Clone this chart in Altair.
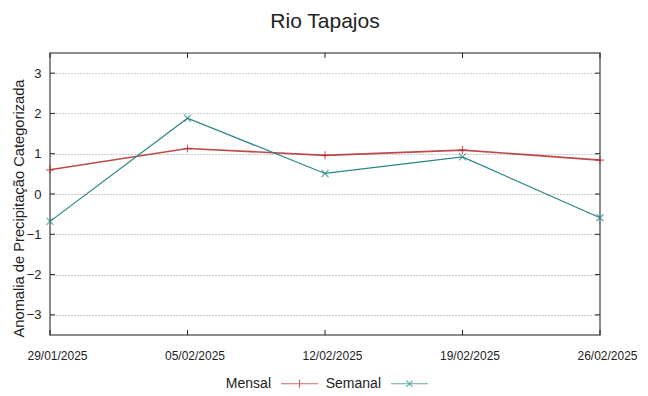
import altair as alt
import pandas as pd

# ---- data ----
dates = ["29/01/2025", "05/02/2025", "12/02/2025", "19/02/2025", "26/02/2025"]
mensal = [0.60, 1.13, 0.96, 1.09, 0.84]
semanal = [-0.68, 1.88, 0.51, 0.92, -0.59]
series_names = ["Mensal", "Semanal"]
y_ticks = [-3, -2, -1, 0, 1, 2, 3]

rows = []
for d, v in zip(dates, mensal):
    rows.append({"date": d, "value": v, "series": "Mensal"})
for d, v in zip(dates, semanal):
    rows.append({"date": d, "value": v, "series": "Semanal"})
df = pd.DataFrame(rows)
yt_df = pd.DataFrame({"value": y_ticks})
xt_df = pd.DataFrame({"date": dates})

W, H = 550, 282
FONT = "Liberation Sans"
RED = "#b22a2a"
TEAL = "#2a8585"
TXT = "#222222"

PLUS = "M-1,0H1M0,-1V1"
CROSS = "M-1,-1L1,1M-1,1L1,-1"
LEG_PLUS = "M-1,0H1M0,-0.22V0.22"
LEG_CROSS = "M-1,0H1M-0.17,-0.17L0.17,0.17M-0.17,0.17L0.17,-0.17"

x_scale = alt.Scale(type="point", domain=dates, padding=0)
y_scale = alt.Scale(domain=[-3.5, 3.5], nice=False, zero=False)

x_axis = alt.Axis(title=None, labelAngle=0, labelFontSize=12, labelPadding=15,
                  labelOffset=7, tickSize=0, domain=False, grid=False,
                  labelFont=FONT, labelColor=TXT)
y_axis = alt.Axis(values=y_ticks, title="Anomalia de Precipitação Categorizada",
                  grid=True, gridDash=[1, 2], gridColor="#999999", gridWidth=1,
                  tickSize=0, domain=False, labelPadding=9, labelFontSize=13,
                  labelFont=FONT, labelColor=TXT, titleFont=FONT,
                  titleFontSize=14.7, titleFontWeight="normal", titleColor=TXT,
                  titleX=-31, titleY=155, titleAngle=-90, titleAlign="center",
                  titleBaseline="middle")

X = alt.X("date:N", scale=x_scale, sort=None, axis=x_axis)
Y = alt.Y("value:Q", scale=y_scale, axis=y_axis)

# inward ticks (gnuplot style, mirrored on all four sides)
yt_left = alt.Chart(yt_df).mark_rule(color=TXT, strokeWidth=1).encode(
    y=Y, x=alt.value(0), x2=alt.value(5))
yt_right = alt.Chart(yt_df).mark_rule(color=TXT, strokeWidth=1).encode(
    y=Y, x=alt.value(W - 5), x2=alt.value(W))
xt_bottom = alt.Chart(xt_df).mark_rule(color=TXT, strokeWidth=1).encode(
    x=X, y=alt.value(H - 5), y2=alt.value(H))
xt_top = alt.Chart(xt_df).mark_rule(color=TXT, strokeWidth=1).encode(
    x=X, y=alt.value(0), y2=alt.value(5))

base = alt.Chart(df)
line_m = base.transform_filter("datum.series == 'Mensal'").mark_line(
    color=RED, strokeWidth=1.6, opacity=0.85).encode(x=X, y=Y)
line_s = base.transform_filter("datum.series == 'Semanal'").mark_line(
    color=TEAL, strokeWidth=1.2).encode(x=X, y=Y)
pt_m = base.transform_filter("datum.series == 'Mensal'").mark_point(
    shape=PLUS, size=64, color=RED, filled=False, strokeWidth=1.2).encode(x=X, y=Y)
pt_s = base.transform_filter("datum.series == 'Semanal'").mark_point(
    shape=CROSS, size=49, color=TEAL, filled=False, strokeWidth=1.2).encode(x=X, y=Y)

legend = alt.Legend(title=None, orient="none", legendX=230, legendY=311,
                    direction="horizontal", labelAlign="right",
                    labelOffset={"expr": "-48"},
                    symbolSize=1369, symbolStrokeWidth=1.2, labelFontSize=14,
                    labelFont=FONT, labelColor=TXT, columnPadding=4,
                    labelLimit=0)
leg_layer = base.transform_filter("false").mark_point(
    size=1369, filled=False, strokeWidth=1.2).encode(
    x=X, y=Y,
    color=alt.Color("series:N", scale=alt.Scale(domain=series_names, range=[RED, TEAL]),
                    legend=legend),
    shape=alt.Shape("series:N", scale=alt.Scale(domain=series_names,
                                                range=[LEG_PLUS, LEG_CROSS]),
                    legend=legend),
)

chart = alt.layer(yt_left, yt_right, xt_bottom, xt_top, line_m, line_s, pt_m, pt_s,
                  leg_layer).properties(
    width=W, height=H,
    title=alt.TitleParams("Rio Tapajos", font=FONT, fontSize=21,
                          fontWeight="normal", color=TXT, offset=4,
                          baseline="alphabetic", anchor="middle"),
    padding={"left": 42, "top": 45, "right": 40, "bottom": 53},
    autosize=alt.AutoSizeParams(type="none"),
    background="white",
).configure_view(stroke="#666666", strokeWidth=1.5)

chart.save("out.html", embed_options={"renderer": "svg", "actions": False})
